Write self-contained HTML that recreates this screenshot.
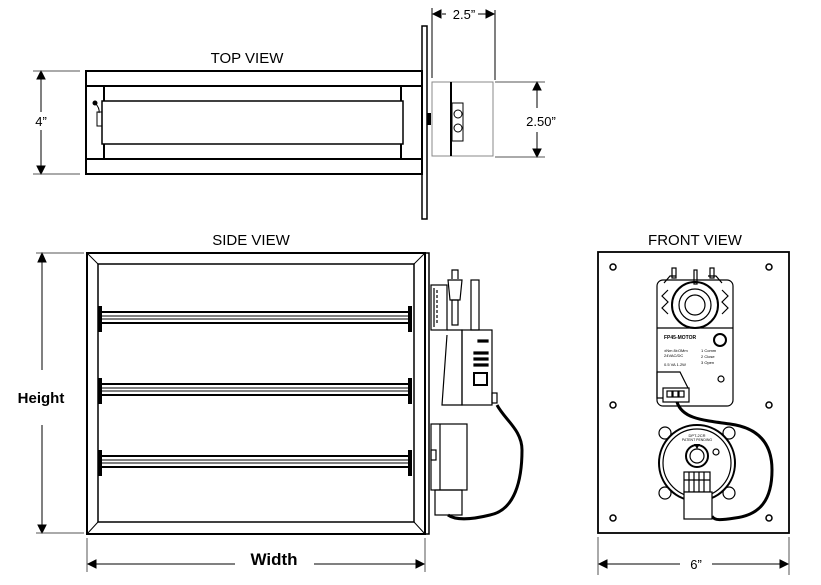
<!DOCTYPE html>
<html><head><meta charset="utf-8"><style>
html,body{margin:0;padding:0;background:#fff;}
svg{display:block;}
text{font-family:"Liberation Sans",Arial,sans-serif;fill:#000;}
</style></head><body>
<svg width="821" height="585" viewBox="0 0 821 585" xmlns="http://www.w3.org/2000/svg">
<g stroke="#000" fill="none">
<!-- TOP VIEW -->
<rect x="86" y="71" width="336" height="103" stroke-width="2"/>
<line x1="86" y1="86" x2="422" y2="86" stroke-width="2"/>
<line x1="86" y1="159" x2="422" y2="159" stroke-width="2"/>
<line x1="104" y1="86" x2="104" y2="159" stroke-width="2"/>
<line x1="401" y1="86" x2="401" y2="159" stroke-width="2"/>
<rect x="102" y="101" width="301" height="43" stroke-width="1.5" fill="#fff"/>
<rect x="97" y="112" width="5" height="14" stroke-width="1"/>
<circle cx="95" cy="103" r="2" fill="#000"/>
<path d="M95,103 Q100,108 99,113" stroke-width="1"/>
<rect x="422" y="26" width="5" height="193" stroke-width="1.5"/>
<rect x="427" y="113" width="4" height="12" fill="#000" stroke="none"/>
<rect x="432" y="82" width="61" height="74" stroke="#888" stroke-width="1"/>
<line x1="451" y1="82" x2="451" y2="156" stroke-width="2"/>
<rect x="452" y="103" width="11" height="38" stroke-width="1"/>
<circle cx="458" cy="114" r="4" stroke-width="1"/>
<circle cx="458" cy="128" r="4" stroke-width="1"/>
<!-- top dims -->
<line x1="41" y1="72" x2="41" y2="112" stroke-width="1"/>
<line x1="41" y1="130" x2="41" y2="172" stroke-width="1"/>
<path d="M37,79 L41,71 L45,79z M37,166 L41,174 L45,166z" fill="#000"/>
<line x1="33" y1="71" x2="80" y2="71" stroke="#555" stroke-width="1"/>
<line x1="33" y1="174" x2="80" y2="174" stroke="#555" stroke-width="1"/>
<line x1="432" y1="8" x2="432" y2="78" stroke-width="1"/>
<line x1="495" y1="10" x2="495" y2="80" stroke-width="1"/>
<line x1="442" y1="14" x2="446" y2="14" stroke-width="1"/>
<line x1="478" y1="14" x2="488" y2="14" stroke-width="1"/>
<path d="M441,10 L433,14 L441,18z M486,10 L494,14 L486,18z" fill="#000"/>
<line x1="537" y1="84" x2="537" y2="108" stroke-width="1"/>
<line x1="537" y1="132" x2="537" y2="155" stroke-width="1"/>
<path d="M533,90 L537,82 L541,90z M533,149 L537,157 L541,149z" fill="#000"/>
<line x1="495" y1="82" x2="545" y2="82" stroke="#555" stroke-width="1"/>
<line x1="495" y1="157" x2="545" y2="157" stroke="#555" stroke-width="1"/>

<!-- SIDE VIEW -->
<rect x="87" y="253" width="338" height="281" stroke-width="2"/>
<rect x="98" y="264" width="316" height="258" stroke-width="1.5"/>
<line x1="87" y1="253" x2="98" y2="264" stroke-width="1"/>
<line x1="425" y1="253" x2="414" y2="264" stroke-width="1"/>
<line x1="87" y1="534" x2="98" y2="522" stroke-width="1"/>
<line x1="425" y1="534" x2="414" y2="522" stroke-width="1"/>
<rect x="425" y="253" width="4" height="281" stroke-width="1.5"/>
<g stroke-width="2">
<rect x="100" y="312" width="310" height="11"/><line x1="100" y1="316" x2="410" y2="316" stroke-width="1"/><line x1="100" y1="319" x2="410" y2="319" stroke-width="1"/>
<rect x="100" y="384" width="310" height="11"/><line x1="100" y1="388" x2="410" y2="388" stroke-width="1"/><line x1="100" y1="391" x2="410" y2="391" stroke-width="1"/>
<rect x="100" y="456" width="310" height="11"/><line x1="100" y1="460" x2="410" y2="460" stroke-width="1"/><line x1="100" y1="463" x2="410" y2="463" stroke-width="1"/>
</g>
<g fill="#000" stroke="none">
<rect x="98" y="306" width="4" height="26"/><rect x="408" y="306" width="4" height="26"/>
<rect x="98" y="378" width="4" height="26"/><rect x="408" y="378" width="4" height="26"/>
<rect x="98" y="450" width="4" height="26"/><rect x="408" y="450" width="4" height="26"/>
</g>
<!-- side motor -->
<g stroke-width="1.2">
<rect x="431" y="285" width="16" height="45"/>
<line x1="434" y1="288" x2="434" y2="327"/><line x1="437" y1="290" x2="437" y2="325" stroke-dasharray="3,2"/>
<path d="M452,279 L452,270 L458,270 L458,279 M448,280 L462,280 L460,300 L450,300z"/>
<rect x="452" y="300" width="6" height="25"/>
<rect x="471" y="280" width="8" height="50"/>
<rect x="462" y="330" width="30" height="75"/>
<path d="M447,330 L462,330 L462,405 L442,405 L447,335"/>
<rect x="478" y="340" width="10" height="2" fill="#000"/>
<rect x="474" y="352" width="14" height="2" fill="#000"/>
<rect x="474" y="358" width="14" height="2" fill="#000"/>
<rect x="474" y="364" width="14" height="2" fill="#000"/>
<rect x="474" y="373" width="13" height="12" stroke-width="2"/>
<rect x="492" y="393" width="5" height="10"/>
<rect x="431" y="424" width="36" height="66"/>
<line x1="440" y1="424" x2="440" y2="490"/>
<rect x="431" y="450" width="5" height="10"/>
<rect x="435" y="490" width="27" height="25"/>
</g>
<path d="M497,405 C505,420 522,430 522,450 C522,480 515,510 490,515 C470,520 455,520 448,515" stroke-width="3"/>
<!-- side dims -->
<line x1="42" y1="262" x2="42" y2="370" stroke-width="1"/>
<line x1="42" y1="425" x2="42" y2="525" stroke-width="1"/>
<path d="M38,262 L42,253 L46,262z M38,525 L42,533 L46,525z" fill="#000"/>
<line x1="36" y1="253" x2="84" y2="253" stroke="#555" stroke-width="1"/>
<line x1="36" y1="533" x2="84" y2="533" stroke="#555" stroke-width="1"/>
<line x1="87" y1="538" x2="87" y2="572" stroke="#555" stroke-width="1"/>
<line x1="425" y1="538" x2="425" y2="572" stroke="#555" stroke-width="1"/>
<line x1="95" y1="564" x2="235" y2="564" stroke-width="1"/>
<line x1="314" y1="564" x2="417" y2="564" stroke-width="1"/>
<path d="M96,560 L88,564 L96,568z M416,560 L424,564 L416,568z" fill="#000"/>

<!-- FRONT VIEW -->
<rect x="598" y="252" width="191" height="281" stroke-width="1.8"/>
<g stroke-width="1.5">
<circle cx="613" cy="267" r="3"/><circle cx="769" cy="267" r="3"/>
<circle cx="613" cy="405" r="3"/><circle cx="769" cy="405" r="3"/>
<circle cx="613" cy="518" r="3"/><circle cx="769" cy="518" r="3"/>
</g>
<g stroke-width="1.2">
<rect x="657" y="280" width="76" height="126" rx="6"/>
<line x1="657" y1="328" x2="733" y2="328"/>
<path d="M664,283 L670,276 L676,276 M708,276 L716,276 L722,283"/>
<rect x="672" y="268" width="4" height="10"/><rect x="710" y="268" width="4" height="10"/>
<rect x="694" y="270" width="3" height="14"/>
<circle cx="695" cy="305" r="23" stroke-width="2"/>
<circle cx="695" cy="305" r="16"/>
<circle cx="695" cy="305" r="10"/>
<path d="M668,290 l-6,6 l6,6 l-6,6 l6,6 M722,290 l6,6 l-6,6 l6,6 l-6,6"/>
<circle cx="720" cy="340" r="6" stroke-width="2"/>
<circle cx="721" cy="379" r="3"/>
<path d="M657,372 L680,372 L688,388 L668,398 L657,398z"/>
<rect x="663" y="388" width="26" height="14" fill="#fff"/>
<rect x="667" y="391" width="5" height="6"/><rect x="673" y="391" width="5" height="6"/><rect x="679" y="391" width="5" height="6"/>
</g>
<g font-size="4" stroke="none">
<text x="664" y="339" font-size="5" font-weight="bold">FP45-MOTOR</text>
<text x="664" y="352">±Nm 8±OMm</text><text x="664" y="357">24VAC/DC</text><text x="664" y="366">0.5 VA 1.2W</text>
<text x="701" y="352">1 Comm</text><text x="701" y="358">2 Close</text><text x="701" y="364">3 Open</text>
</g>
<path d="M677,402 C682,418 700,420 730,424 C760,428 772,445 772,470 C772,500 760,515 735,518 C722,520 714,521 712,516" stroke-width="3"/>
<g stroke-width="1.2">
<circle cx="665" cy="433" r="6" fill="#fff"/><circle cx="729" cy="433" r="6" fill="#fff"/>
<circle cx="665" cy="493" r="6" fill="#fff"/><circle cx="729" cy="493" r="6" fill="#fff"/>
<circle cx="697" cy="463" r="38" stroke-width="2" fill="#fff"/>
<circle cx="697" cy="463" r="34"/>
<circle cx="697" cy="456" r="11" stroke-width="2"/>
<circle cx="697" cy="456" r="7"/>
<circle cx="716" cy="452" r="3"/>
<rect x="684" y="472" width="26" height="20" fill="#fff"/>
<line x1="684" y1="480" x2="710" y2="480"/>
<line x1="689" y1="472" x2="689" y2="492"/><line x1="694" y1="472" x2="694" y2="492"/><line x1="699" y1="472" x2="699" y2="492"/><line x1="704" y1="472" x2="704" y2="492"/>
<rect x="684" y="492" width="28" height="27" fill="#fff"/>
</g>
<text x="697" y="437" font-size="4" text-anchor="middle" stroke="none">DPT-2CR</text>
<text x="697" y="441" font-size="3.5" text-anchor="middle" stroke="none">PATENT PENDING</text>
<path d="M694,444 L700,444 L697,449z" fill="#000" stroke="none"/>
<!-- front dims -->
<line x1="598" y1="537" x2="598" y2="575" stroke="#555" stroke-width="1"/>
<line x1="789" y1="537" x2="789" y2="575" stroke="#555" stroke-width="1"/>
<line x1="606" y1="564" x2="680" y2="564" stroke-width="1"/>
<line x1="712" y1="564" x2="781" y2="564" stroke-width="1"/>
<path d="M607,560 L599,564 L607,568z M780,560 L788,564 L780,568z" fill="#000"/>
</g>
<text x="247" y="63" font-size="15" text-anchor="middle">TOP VIEW</text>
<text x="251" y="245" font-size="15" text-anchor="middle">SIDE VIEW</text>
<text x="695" y="245" font-size="15" text-anchor="middle">FRONT VIEW</text>
<text x="41" y="126" font-size="13" text-anchor="middle">4”</text>
<text x="464" y="19" font-size="13" text-anchor="middle">2.5”</text>
<text x="541" y="126" font-size="13" text-anchor="middle">2.50”</text>
<text x="41" y="403" font-size="15" font-weight="bold" text-anchor="middle">Height</text>
<text x="274" y="565" font-size="17" font-weight="bold" text-anchor="middle">Width</text>
<text x="696" y="569" font-size="13" text-anchor="middle">6”</text>
</svg>
</body></html>
